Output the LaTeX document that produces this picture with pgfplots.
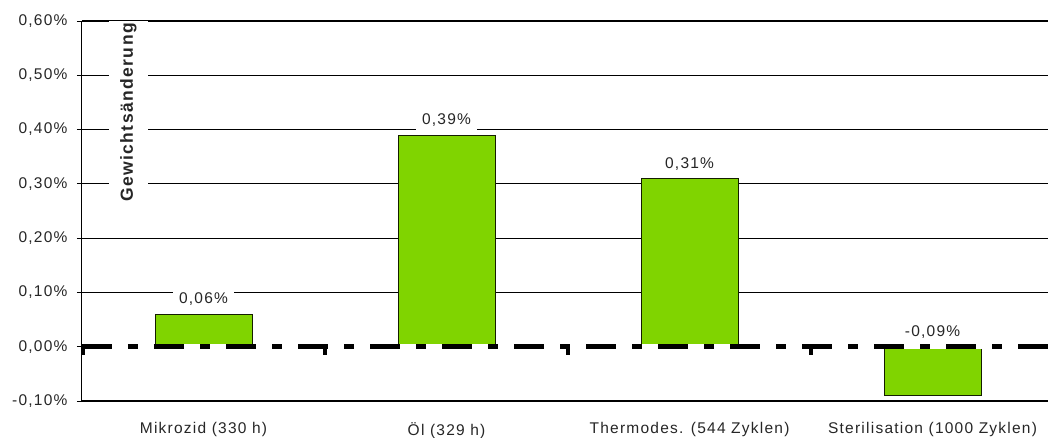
\documentclass[border=0pt]{standalone}
\usepackage{fontspec}
\setmainfont{Liberation Sans}[LetterSpace=8]
\usepackage{pgfplots}
\pgfplotsset{compat=1.18}
\definecolor{barGreen}{RGB}{128, 212, 0}
\definecolor{barEdge}{RGB}{20, 30, 0}

\begin{document}
\begin{tikzpicture}
    \useasboundingbox (-82pt,-36pt) rectangle (966pt,401pt);
    \begin{axis}[
        at={(0,0)}, anchor=south west,
        scale only axis,
        width=966pt, height=380pt,
        xmin=-0.5, xmax=3.475,
        ymin=-0.1, ymax=0.6,
        ytick={-0.1,0,0.1,0.2,0.3,0.4,0.5,0.6},
        xtick={0,1,2,3},
        xticklabels={Mikrozid (330 h), Öl (329 h), Thermodes. (544 Zyklen), Sterilisation (1000 Zyklen)},
        x tick style={draw=none},
        major x tick style={draw=none},
        y tick style={black, line width=0.9pt},
        tick align=outside,
        major tick length=5pt,
        axis x line*=bottom,
        axis y line*=left,
        axis line style={black, line width=1pt},
        ymajorgrids,
        grid style={black, line width=1.1pt},
        /pgf/number format/.cd, use comma, fixed, fixed zerofill, precision=2, assume math mode=true,
        /pgfplots/.cd,
        yticklabel={\pgfmathprintnumber{\tick}\%},
        tick label style={font=\fontsize{15.5}{18}\selectfont, text=black!85},
        xticklabel style={yshift=-13pt},
        yticklabel style={xshift=-6pt},
        clip=false,
    ]
    % bars
    \addplot[ybar, bar width=97pt, fill=barGreen, draw=barEdge, line width=1pt] coordinates {
        (0, 0.06) (1, 0.39) (2, 0.31) (3, -0.09)
    };
    % value labels
    \addplot[draw=none, mark=none, nodes near coords, point meta=explicit symbolic,
        every node near coord/.style={font=\fontsize{15.5}{18}\selectfont, text=black!85,
            fill=white, inner xsep=6pt, inner ysep=5pt, anchor=south, yshift=3pt}] coordinates {
        (0, 0.06) [0,06\%]
        (1, 0.39) [0,39\%]
        (2, 0.31) [0,31\%]
        (3, 0.00) [-0,09\%]
    };
    % zero line
    \addplot[white, line width=5pt, forget plot] coordinates {(-0.5,0) (3.475,0)};
    \addplot[black, line width=5.5pt, dash pattern=on 30pt off 16pt on 10pt off 16pt] coordinates {(-0.5,0) (3.475,0)};
    % category separators on the zero line
    \addplot[ycomb, black, line width=4pt, mark=none] coordinates {
        (-0.495,-0.016) (0.5,-0.016) (1.5,-0.016) (2.5,-0.016)
    };
    \node[rotate=90, anchor=east, fill=white, inner xsep=2pt, inner ysep=11pt,
        font=\bfseries\fontsize{17.5}{20}\selectfont, text=black!85]
        at (rel axis cs:0.048,1) {Gewichtsänderung};
    \end{axis}
\end{tikzpicture}
\end{document}
